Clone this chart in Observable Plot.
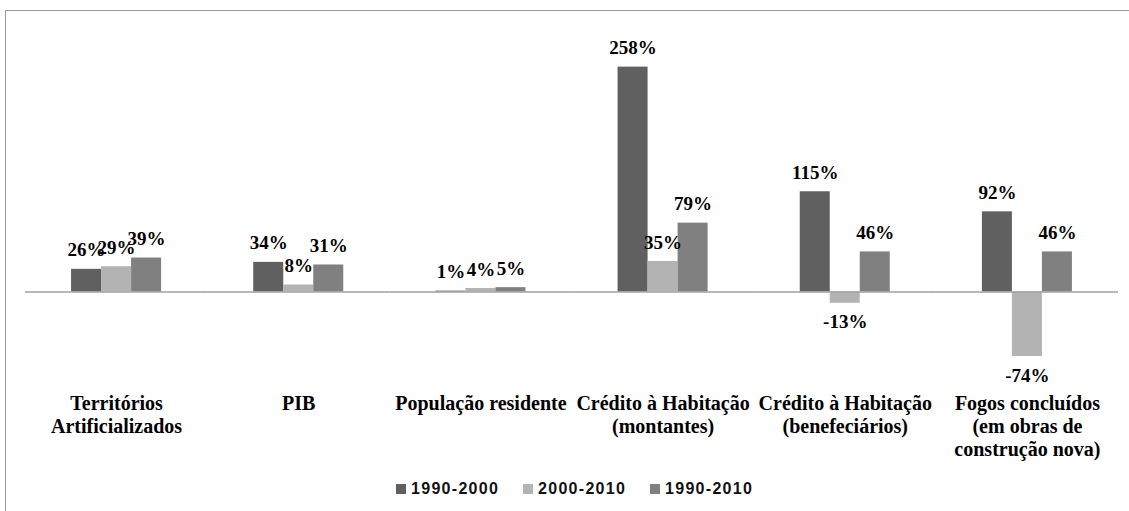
<!DOCTYPE html>
<html><head><meta charset="utf-8">
<script src="https://cdn.jsdelivr.net/npm/d3@7"></script>
<script src="https://cdn.jsdelivr.net/npm/@observablehq/plot@0.6"></script>
<style>
html,body{margin:0;padding:0;background:#fff;overflow:hidden;width:1129px;height:511px}
#frame{position:absolute;left:5px;top:10px;width:1200px;height:600px;border-left:1.5px solid #9a9a9a;border-top:1.5px solid #9a9a9a;pointer-events:none}
#chart{position:absolute;left:0;top:0}
#legend{position:absolute;top:480.5px;left:396px;display:flex;font-family:"Liberation Sans",Arial,sans-serif;font-weight:bold;font-size:16px;line-height:16px;letter-spacing:1.3px;color:#111}
#legend .item{display:flex;align-items:center;width:127px}
#legend .sw{width:10px;height:10px;margin-right:5px;flex:none}
</style>
</head><body>
<div id="chart"></div>
<div id="legend"></div>
<div id="frame"></div>
<script>
const categories = [
  "Territórios\nArtificializados",
  "PIB",
  "População residente",
  "Crédito à Habitação\n(montantes)",
  "Crédito à Habitação\n(benefeciários)",
  "Fogos concluídos\n(em obras de\nconstrução nova)"
];
const series = ["1990-2000", "2000-2010", "1990-2010"];
const v1990_2000 = [26, 34, 1, 258, 115, 92];
const v2000_2010 = [29, 8, 4, 35, -13, -74];
const v1990_2010 = [39, 31, 5, 79, 46, 46];
const seriesColors = ["#606060", "#b3b3b3", "#808080"];

const seriesValues = [v1990_2000, v2000_2010, v1990_2010];
const data = [];
categories.forEach((c, i) => {
  series.forEach((s, j) => {
    data.push({cat: c, series: s, value: seriesValues[j][i]});
  });
});

const serif = "'Liberation Serif', 'Times New Roman', serif";

const fig = Plot.plot({
  width: 1129,
  height: 470,
  marginLeft: 25,
  marginRight: 11,
  marginTop: 30,
  marginBottom: 82.6,
  style: {background: "transparent", overflow: "visible"},
  fx: {domain: categories, padding: 0, round: false},
  x: {domain: series, paddingInner: 0, paddingOuter: 1.535, round: false, axis: null},
  y: {domain: [-110, 300], axis: null},
  color: {domain: series, range: seriesColors},
  marks: [
    Plot.barY(data, {fx: "cat", x: "series", y: "value", fill: "series"}),
    Plot.ruleY([0], {stroke: "#a0a0a0", strokeWidth: 1.5}),
    Plot.text(data.filter(d => d.value >= 0), {
      fx: "cat", x: "series", y: "value", text: d => d.value + "%",
      dy: -19, lineAnchor: "middle", fill: "#000",
      fontFamily: serif, fontWeight: "bold", fontSize: 19
    }),
    Plot.text(data.filter(d => d.value < 0), {
      fx: "cat", x: "series", y: "value", text: d => d.value + "%",
      dy: 19, lineAnchor: "middle", fill: "#000",
      fontFamily: serif, fontWeight: "bold", fontSize: 19
    }),
    Plot.axisFx({
      anchor: "bottom", tickSize: 0, tickPadding: 6, label: null,
      fontFamily: serif, fontWeight: "bold", fontSize: 20,
      lineHeight: 1.15, fill: "#000", tickFormat: d => d
    })
  ]
});
document.getElementById("chart").appendChild(fig);

const cs = fig.scale("color");
const legend = document.getElementById("legend");
cs.domain.forEach((s, i) => {
  const item = document.createElement("div");
  item.className = "item";
  const sw = document.createElement("span");
  sw.className = "sw";
  sw.style.background = cs.range[i];
  const t = document.createElement("span");
  t.textContent = s;
  item.appendChild(sw);
  item.appendChild(t);
  legend.appendChild(item);
});
</script>
</body></html>
